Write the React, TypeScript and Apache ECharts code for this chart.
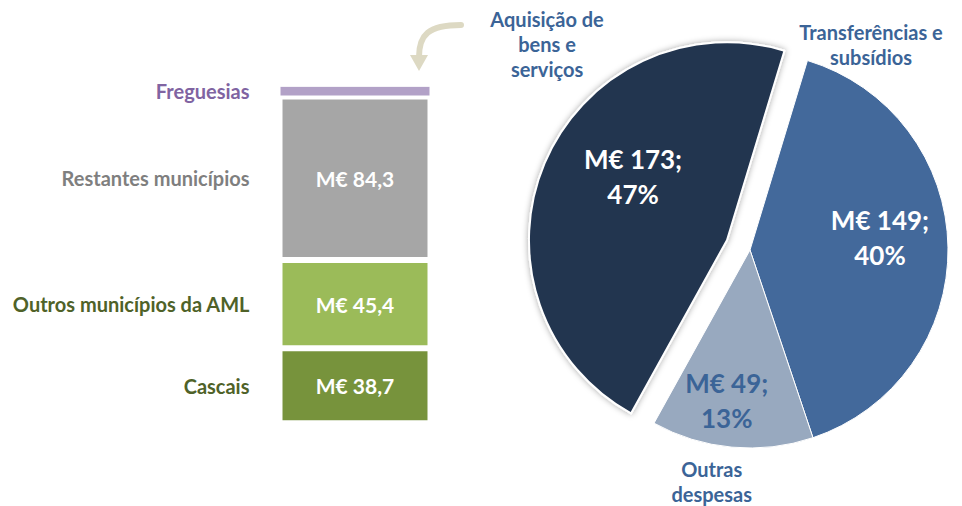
import React, { useEffect, useRef } from "react";
import * as echarts from "echarts";

const barCategories = ["Cascais", "Outros municípios da AML", "Restantes municípios", "Freguesias"];
const barValues = [38.7, 45.4, 84.3, 5.5];
const barShowValue = [true, true, true, false];
const barColors = ["#77933c", "#9bbb59", "#a6a6a6", "#b2a1c7"];
const barNameColors = ["#4f6228", "#4f6228", "#7f7f7f", "#8064a2"];

const pieNames = ["Aquisição de\nbens e\nserviços", "Transferências e\nsubsídios", "Outras\ndespesas"];
const pieValues = [173, 149, 49];
const pieColors = ["#22344f", "#43699b", "#98a9bf"];
const pieInnerLabelColors = ["#ffffff", "#ffffff", "#3b6497"];

const FONT = "Lato";

export default function App() {
  const ref = useRef<HTMLDivElement>(null);
  useEffect(() => {
    if (!ref.current) return;
    const chart = echarts.init(ref.current, undefined, { renderer: "svg" });

    const visibleBars = barCategories.map((name, i) => ({
      type: "bar",
      name,
      stack: "v",
      barWidth: 151,
      barGap: "-100%",
      data: [barValues[i]],
      itemStyle: { color: barColors[i], borderColor: "#ffffff", borderWidth: i === 3 ? 1 : 3 },
      label: {
        show: barShowValue[i],
        position: "inside",
        formatter: () => "M€ " + barValues[i].toFixed(1).replace(".", ","),
        color: "#ffffff",
        fontFamily: FONT,
        fontSize: 21,
        fontWeight: "bold",
      },
      emphasis: { disabled: true },
      silent: true,
    }));

    const nameBars = barCategories.map((name, i) => ({
      type: "bar",
      name: name + "_lbl",
      stack: "t",
      barWidth: 151,
      barGap: "-100%",
      data: [barValues[i]],
      itemStyle: { color: "rgba(0,0,0,0)" },
      label: {
        show: true,
        position: "left",
        distance: 30,
        formatter: () => name,
        color: barNameColors[i],
        fontFamily: FONT,
        fontSize: 20,
        fontWeight: "bold",
      },
      emphasis: { disabled: true },
      silent: true,
    }));

    const innerDx = [0, 28, -14];
    const innerDy = [-24, -11, 49];
    const outerDx = [-109, 19, -29];
    const outerDy = [-166, -204, 130];

    chart.setOption({
      animation: false,
      grid: { left: 270, width: 170, top: 74, height: 349.3 },
      xAxis: { type: "category", data: [""], show: false },
      yAxis: { type: "value", min: 0, max: 180, show: false },
      graphic: [
        {
          type: "bezierCurve",
          shape: { x1: 461, y1: 25, cpx1: 428, cpy1: 25, cpx2: 419, cpy2: 35, x2: 419, y2: 57 },
          style: { stroke: "#ddd9c3", lineWidth: 6, fill: "none", lineCap: "round" },
        },
        {
          type: "polygon",
          shape: { points: [[410, 55], [428, 55], [419, 71]] },
          style: { fill: "#ddd9c3" },
        },
      ],
      series: [
        ...visibleBars,
        ...nameBars,
        {
          type: "pie",
          center: [750, 250],
          radius: 198,
          startAngle: 241,
          clockwise: true,
          selectedMode: "single",
          selectedOffset: 25,
          percentPrecision: 0,
          emphasis: { disabled: true },
          silent: true,
          data: pieNames.map((name, i) => ({
            name,
            value: pieValues[i],
            selected: i === 0,
            itemStyle: {
              color: pieColors[i],
              borderColor: "#ffffff",
              borderWidth: i === 0 ? 2 : 1,
              shadowBlur: i === 0 ? 6 : 0,
              shadowColor: "rgba(0,0,0,0.35)",
            },
            label: { color: pieInnerLabelColors[i] },
          })),
          label: {
            show: true,
            position: "inside",
            formatter: "M€ {c};\n{d}%",
            fontFamily: FONT,
            fontSize: 26,
            fontWeight: "bold",
            lineHeight: 35,
            align: "center",
          },
          labelLine: { show: false },
          labelLayout: (p: any) => ({ dx: innerDx[p.dataIndex], dy: innerDy[p.dataIndex] }),
        },
        {
          type: "pie",
          center: [750, 250],
          radius: 198,
          startAngle: 241,
          clockwise: true,
          silent: true,
          emphasis: { disabled: true },
          z: 5,
          data: pieNames.map((name, i) => ({
            name,
            value: pieValues[i],
            itemStyle: { color: "rgba(0,0,0,0)", borderWidth: 0 },
          })),
          label: {
            show: true,
            position: "inside",
            formatter: "{b}",
            color: "#3b6497",
            fontFamily: FONT,
            fontSize: 20,
            fontWeight: "bold",
            lineHeight: 25,
            align: "center",
          },
          labelLine: { show: false },
          labelLayout: (p: any) => ({ dx: outerDx[p.dataIndex], dy: outerDy[p.dataIndex] }),
        },
      ],
    });
    return () => chart.dispose();
  }, []);
  return (
    <div
      ref={ref}
      style={{ position: "fixed", left: 0, top: 0, width: 962, height: 506, background: "#ffffff" }}
    />
  );
}
